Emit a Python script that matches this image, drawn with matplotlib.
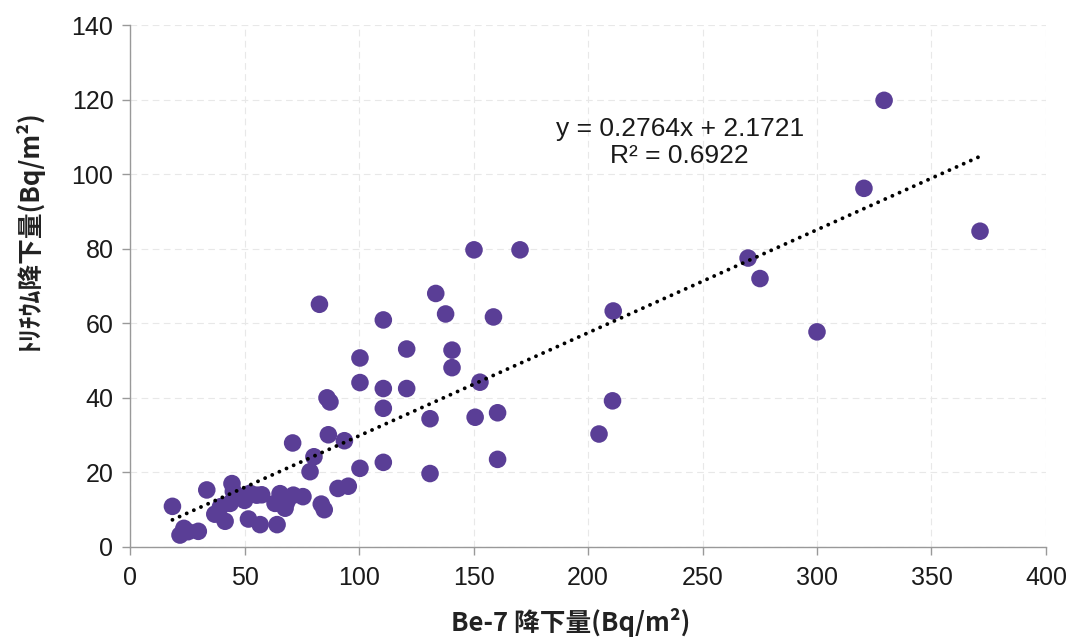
import matplotlib
matplotlib.use("Agg")
import matplotlib.pyplot as plt
import numpy as np

# Data
be7 = [18.5, 21.8, 25.3, 29.8, 23.5, 33.5, 37.0, 39.5, 41.5, 43.7,
       44.5, 45.1, 48.0, 50.0, 51.7, 52.4, 55.3, 56.8, 57.5, 63.3,
       64.2, 65.5, 67.7, 68.4, 71.3, 71.0, 75.5, 78.6, 80.3, 82.7,
       83.5, 84.8, 86.0, 87.3, 86.6, 90.8, 93.6, 95.3, 100.4, 100.4,
       100.4, 110.6, 110.6, 110.6, 110.6, 120.8, 120.8, 131.0, 131.0, 133.5,
       137.8, 140.6, 140.6, 150.2, 150.7, 152.8, 158.7, 160.5, 160.5, 170.3,
       204.8, 210.7, 211.0, 269.9, 275.1, 300.0, 320.5, 329.3, 371.2]
tritium = [10.9, 3.2, 4.1, 4.2, 5.0, 15.3, 8.8, 10.8, 6.9, 11.7,
           17.0, 14.9, 13.5, 12.5, 7.5, 14.4, 13.9, 6.0, 14.0, 11.7,
           6.0, 14.3, 10.4, 12.0, 13.9, 27.9, 13.5, 20.2, 24.2, 65.1,
           11.5, 10.0, 40.0, 38.9, 30.1, 15.7, 28.5, 16.3, 50.7, 44.1,
           21.1, 60.9, 42.5, 37.2, 22.7, 53.1, 42.5, 34.4, 19.7, 68.0,
           62.5, 52.8, 48.1, 79.7, 34.8, 44.2, 61.7, 36.0, 23.5, 79.7,
           30.3, 39.2, 63.3, 77.5, 72.0, 57.7, 96.2, 119.8, 84.7]
slope = 0.2764
intercept = 2.1721
r2 = 0.6922
xticks = [0, 50, 100, 150, 200, 250, 300, 350, 400]
yticks = [0, 20, 40, 60, 80, 100, 120, 140]

fig = plt.figure(figsize=(10.75, 6.42), dpi=100)
ax = fig.add_axes([0.121, 0.148, 0.852, 0.813])

ax.scatter(be7, tritium, s=160, color="#5A3E96", edgecolors="none", zorder=3)

xs = np.array([min(be7), max(be7)])
ax.plot(xs, slope * xs + intercept, color="black", linewidth=2.8,
        linestyle=(0, (0.01, 2.0)), dash_capstyle="round", zorder=4)

ax.set_xlim(0, 400)
ax.set_ylim(0, 140)
ax.set_xticks(xticks)
ax.set_yticks(yticks)
ax.grid(True, color="#e8e8e8", linestyle=(0, (6, 4)), linewidth=0.8, zorder=0)
ax.set_axisbelow(True)

for s in ["top", "right"]:
    ax.spines[s].set_visible(False)
for s in ["left", "bottom"]:
    ax.spines[s].set_color("#999999")
    ax.spines[s].set_linewidth(1.0)
ax.tick_params(axis="both", colors="#999999", length=6, width=1.0, direction="out")
ax.tick_params(axis="y", labelcolor="#1a1a1a", labelsize=18, pad=6)
ax.tick_params(axis="x", labelcolor="#1a1a1a", labelsize=18, pad=8)
for lab in ax.get_yticklabels():
    lab.set_family(["Liberation Sans", "DejaVu Sans"])
for lab in ax.get_xticklabels():
    lab.set_family(["Liberation Sans Narrow", "Liberation Sans", "DejaVu Sans"])

cjk = ["Noto Sans CJK JP", "DejaVu Sans"]
ax.set_xlabel("Be-7 降下量(Bq/m²)", family=cjk, fontsize=18.5, fontweight="bold",
              color="#222222", va="center")
ax.xaxis.set_label_coords(0.481, -0.144)
ax.set_ylabel("ﾄﾘﾁｳﾑ降下量(Bq/m²)", family=cjk, fontsize=18.5, fontweight="bold",
              color="#222222", va="center")
ax.yaxis.set_label_coords(-0.111, 0.607)

ax.text(240, 108.5, f"y = {slope}x + {intercept}\nR² = {r2}", ha="center", va="center",
        multialignment="center", fontsize=19, family=["Liberation Sans", "DejaVu Sans"],
        color="#1a1a1a", linespacing=1.2, zorder=5)

fig.savefig("out.png", dpi=100)
